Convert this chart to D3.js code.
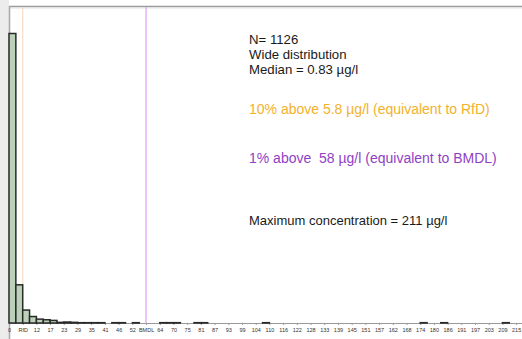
<!DOCTYPE html>
<html>
<head>
<meta charset="utf-8">
<script src="https://cdn.jsdelivr.net/npm/d3@7"></script>
<style>
  html, body { margin: 0; padding: 0; background: #fff; }
  svg { display: block; font-family: "Liberation Sans", Arial, sans-serif; }
  .note { white-space: pre; }
</style>
</head>
<body>
<svg id="chart" width="522" height="339"></svg>
<script>
// Concentration histogram: counts per 2.9 µg/l bin, starting at 0
const binWidth = 2.9;
const counts = [
  895, 118, 40, 20, 12, 10, 8, 2, 3, 2,
  1, 1, 1, 1, 0, 1, 1, 0, 1, 0,
  0, 0, 1, 1, 1, 0, 0, 1, 1, 0,
  0, 0, 0, 0, 0, 0, 0, 1, 0, 0,
  0, 0, 0, 0, 0, 0, 0, 0, 0, 0,
  0, 0, 0, 0, 0, 0, 0, 0, 0, 0,
  1, 0, 0, 1, 0, 0, 0, 0, 0, 0,
  0, 0, 1, 0, 0
];

// Axis ticks (µg/l) and their labels
const tickValues = [0, 5.8, 11.6, 17.4, 23.2, 29, 34.8, 40.6, 46.4, 52.2, 58, 63.8, 69.6, 75.4,
  81.2, 87, 92.8, 98.6, 104.4, 110.2, 116, 121.8, 127.6, 133.4, 139.2, 145, 150.8, 156.6,
  162.4, 168.2, 174, 179.8, 185.6, 191.4, 197.2, 203, 208.8, 214.6];
const tickLabels = ["0", "RfD", "12", "17", "23", "29", "35", "41", "46", "52", "BMDL", "64", "70", "75",
  "81", "87", "93", "99", "104", "110", "116", "122", "128", "133", "139", "145", "151", "157",
  "162", "168", "174", "180", "186", "191", "197", "203", "209", "215"];

// Reference levels
const rfd = 5.8;
const bmdl = 58;

// Annotation lines
const notes = [
  { text: "N= 1126", color: "#1a1a1a", y: 44, size: 13.2 },
  { text: "Wide distribution", color: "#1a1a1a", y: 59, size: 13.2 },
  { text: "Median = 0.83 µg/l", color: "#1a1a1a", y: 74, size: 13.2 },
  { text: "10% above 5.8 µg/l (equivalent to RfD)", color: "#f3b12c", y: 114, size: 14 },
  { text: "1% above  58 µg/l (equivalent to BMDL)", color: "#8f3fc4", y: 163, size: 14 },
  { text: "Maximum concentration = 211 µg/l", color: "#1a1a1a", y: 225, size: 13 }
];

const svg = d3.select("#chart");
const W = 522, H = 339;
const plotLeft = 9, plotTop = 6, plotBottom = 323;

// Page frame: grey strip on the left, border on top and left
svg.append("rect").attr("x", 0).attr("y", 0).attr("width", 9).attr("height", H).attr("fill", "#ececec");
svg.append("line").attr("x1", plotLeft).attr("x2", W).attr("y1", plotTop + 0.5).attr("y2", plotTop + 0.5)
  .attr("stroke", "#9a9a9a").attr("stroke-width", 1.5);
svg.append("line").attr("x1", plotLeft).attr("x2", W).attr("y1", plotTop + 2).attr("y2", plotTop + 2)
  .attr("stroke", "#e2e2e2").attr("stroke-width", 1);
svg.append("line").attr("x1", plotLeft + 0.5).attr("x2", plotLeft + 0.5).attr("y1", plotTop).attr("y2", H)
  .attr("stroke", "#a8a8a8").attr("stroke-width", 1.5);

const x = d3.scaleLinear().domain([0, counts.length * binWidth]).range([plotLeft, 523]);
const y = d3.scaleLinear().domain([0, 980]).range([plotBottom, plotTop]);

// Reference lines
svg.append("line").attr("x1", x(rfd)).attr("x2", x(rfd)).attr("y1", plotTop + 1).attr("y2", plotBottom)
  .attr("stroke", "#f8dcc0").attr("stroke-width", 1.2);
svg.append("line").attr("x1", x(bmdl)).attr("x2", x(bmdl)).attr("y1", plotTop + 1).attr("y2", plotBottom)
  .attr("stroke", "#e2b2f6").attr("stroke-width", 1.5);

// Axis
const axis = d3.axisBottom(x)
  .tickValues(tickValues)
  .tickFormat((d, i) => tickLabels[i])
  .tickSize(2)
  .tickSizeOuter(0)
  .tickPadding(3);
const gAxis = svg.append("g").attr("transform", `translate(0,${plotBottom})`).call(axis);
gAxis.select(".domain").attr("stroke", "#9a9a9a").attr("stroke-width", 1.2);
gAxis.selectAll(".tick line").attr("stroke", "#9a9a9a");
gAxis.selectAll(".tick text").attr("font-size", 5.5).attr("fill", "#333")
  .attr("font-family", "'Liberation Sans', Arial, sans-serif");

// Histogram bars
const bins = counts.map((c, i) => ({ x0: i * binWidth, x1: (i + 1) * binWidth, n: c }))
  .filter(d => d.n > 0);
svg.append("g").selectAll("rect").data(bins).join("rect")
  .attr("x", d => x(d.x0))
  .attr("y", d => y(d.n))
  .attr("width", d => x(d.x1) - x(d.x0))
  .attr("height", d => y(0) - y(d.n))
  .attr("fill", "#bcd2b8")
  .attr("stroke", "#2a2a2a")
  .attr("stroke-width", 1.5);

// Annotations
svg.append("g").selectAll("text").data(notes).join("text")
  .attr("class", "note")
  .attr("x", 249)
  .attr("y", d => d.y)
  .attr("fill", d => d.color)
  .attr("font-size", d => d.size)
  .text(d => d.text);
</script>
</body>
</html>
